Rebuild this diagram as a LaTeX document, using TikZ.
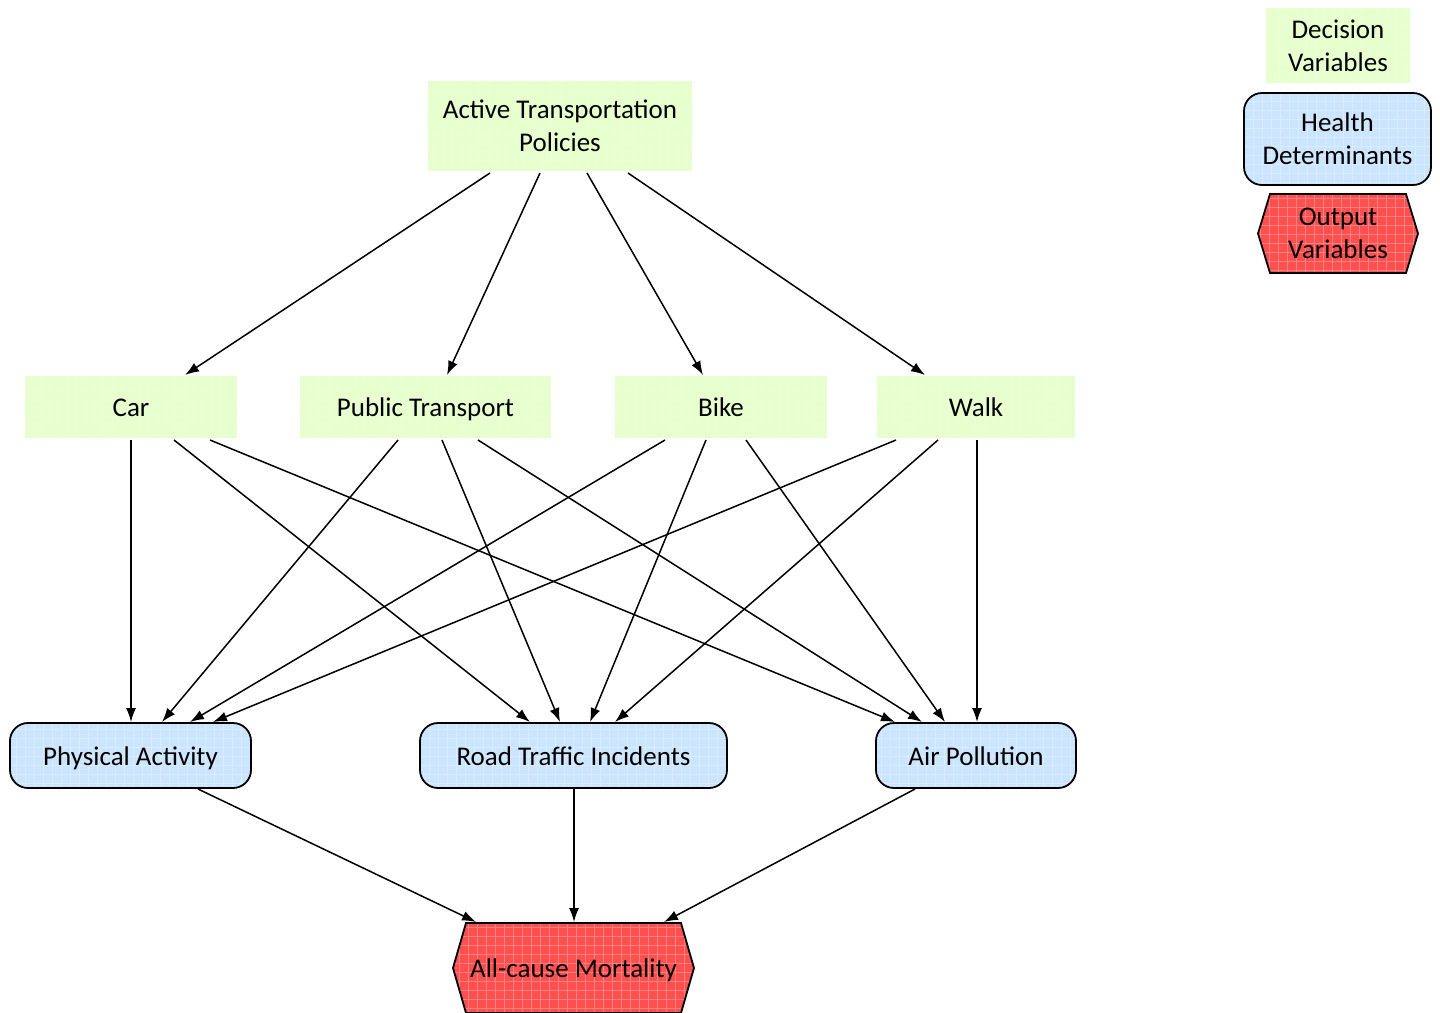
\documentclass[tikz,border=0pt]{standalone}
\usepackage{fontspec}
\setmainfont{Carlito}
\usetikzlibrary{arrows.meta,calc,backgrounds}
\definecolor{decfill}{HTML}{E6FFCC}
\definecolor{hdfill}{HTML}{CCE5FF}
\definecolor{outfill}{HTML}{FF5050}
\tikzset{
  gridtex/.style={path picture={\draw[white,opacity=#1,line width=0.3pt,step=4.5pt]
     ([xshift=-5pt,yshift=-5pt]path picture bounding box.south west) grid
     ([xshift=5pt,yshift=5pt]path picture bounding box.north east);}},
  base/.style={inner sep=0pt,outer sep=0pt,align=center,font=\fontsize{13.5}{16.5}\selectfont},
  oneline/.style={text height=11.1pt,text depth=1.4pt},
  decbox/.style={base,fill=decfill,gridtex=0.18},
  hdbox/.style={base,fill=hdfill,draw=black,line width=0.9pt,rounded corners=9pt,gridtex=0.28},
  outbox/.style={base},
  hexshape/.style={fill=outfill,draw=black,line width=0.9pt,gridtex=0.28},
  arr/.style={draw=black,line width=0.75pt,-{Latex[length=7pt,width=5pt]}}
}
\begin{document}
\begin{tikzpicture}[x=0.5pt,y=-0.5pt]
\useasboundingbox (0,0) rectangle (1440,1012);

% decision variables
\node[decbox,minimum width=132pt,minimum height=45pt] (atp) at (560,126) {Active Transportation\\Policies};
\node[decbox,oneline,minimum width=106pt,minimum height=31pt] (car) at (131,407) {Car};
\node[decbox,oneline,minimum width=125.5pt,minimum height=31pt] (pt) at (425.5,407) {Public Transport};
\node[decbox,oneline,minimum width=106pt,minimum height=31pt] (bike) at (721,407) {Bike};
\node[decbox,oneline,minimum width=99pt,minimum height=31pt] (walk) at (976,407) {Walk};

% health determinants
\node[hdbox,oneline,minimum width=120.5pt,minimum height=32.5pt] (pa) at (130.5,755.5) {Physical Activity};
\node[hdbox,oneline,minimum width=153.5pt,minimum height=32.5pt] (rti) at (573.5,755.5) {Road Traffic Incidents};
\node[hdbox,oneline,minimum width=100pt,minimum height=32.5pt] (ap) at (976,755.5) {Air Pollution};

% output
\node[outbox,oneline,minimum width=120.5pt,minimum height=45pt] (acm) at (573.5,968) {All-cause Mortality};

% legend
\node[decbox,minimum width=72pt,minimum height=37.5pt] (ldv) at (1338,45.5) {Decision\\Variables};
\node[hdbox,minimum width=93.5pt,minimum height=46pt] (lhd) at (1337.5,139) {Health\\Determinants};
\node[outbox,minimum width=80pt,minimum height=39.5pt] (lov) at (1338,233.5) {Output\\Variables};

\begin{scope}[on background layer]
\path[hexshape] ($(acm.north west)+(13,0)$) -- ($(acm.north east)+(-13,0)$) -- (acm.east)
  -- ($(acm.south east)+(-13,0)$) -- ($(acm.south west)+(13,0)$) -- (acm.west) -- cycle;
\path[hexshape] ($(lov.north west)+(12,0)$) -- ($(lov.north east)+(-12,0)$) -- (lov.east)
  -- ($(lov.south east)+(-12,0)$) -- ($(lov.south west)+(12,0)$) -- (lov.west) -- cycle;
\end{scope}

% policies -> modes
\draw[arr] ($(atp.south)+(-70,2)$) -- ($(car.north)+(54,-1)$);
\draw[arr] ($(atp.south)+(-20,2)$) -- ($(pt.north)+(21.5,-1)$);
\draw[arr] ($(atp.south)+(27,2)$) -- ($(bike.north)+(-18,-1)$);
\draw[arr] ($(atp.south)+(68,2)$) -- ($(walk.north)+(-51,-1)$);

% car
\draw[arr] ($(car.south)+(0,2)$) -- ($(pa.north)+(0.5,-1)$);
\draw[arr] ($(car.south)+(43,2)$) -- ($(rti.north)+(-43.5,-1)$);
\draw[arr] ($(car.south)+(79,2)$) -- ($(ap.north)+(-81,-1)$);
% public transport
\draw[arr] ($(pt.south)+(-27.5,2)$) -- ($(pa.north)+(31.5,-1)$);
\draw[arr] ($(pt.south)+(16.5,2)$) -- ($(rti.north)+(-13.5,-1)$);
\draw[arr] ($(pt.south)+(52.5,2)$) -- ($(ap.north)+(-54,-1)$);
% bike
\draw[arr] ($(bike.south)+(-56,2)$) -- ($(pa.north)+(59.5,-1)$);
\draw[arr] ($(bike.south)+(-15,2)$) -- ($(rti.north)+(16.5,-1)$);
\draw[arr] ($(bike.south)+(25,2)$) -- ($(ap.north)+(-31,-1)$);
% walk
\draw[arr] ($(walk.south)+(-80,2)$) -- ($(pa.north)+(82.5,-1)$);
\draw[arr] ($(walk.south)+(-38,2)$) -- ($(rti.north)+(41.5,-1)$);
\draw[arr] ($(walk.south)+(1,2)$) -- ($(ap.north)+(1,-1)$);

% determinants -> mortality
\draw[arr] ($(pa.south)+(67.5,1)$) -- ($(acm.north)+(-97.5,-1)$);
\draw[arr] ($(rti.south)+(0.5,1)$) -- ($(acm.north)+(0.5,-1)$);
\draw[arr] ($(ap.south)+(-61,1)$) -- ($(acm.north)+(90.5,-1)$);
\end{tikzpicture}
\end{document}
